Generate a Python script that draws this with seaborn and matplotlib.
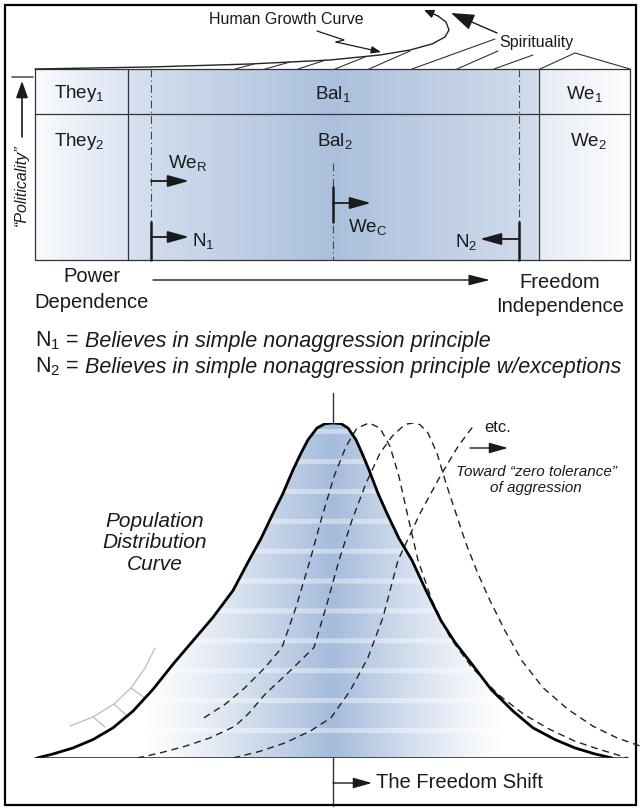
import numpy as np
import matplotlib
matplotlib.use("Agg")
import matplotlib.pyplot as plt
import seaborn as sns
from matplotlib.colors import LinearSegmentedColormap, to_rgb
from matplotlib.patches import Rectangle, Polygon

# ---- data ----
row1_labels = ["They$_1$", "Bal$_1$", "We$_1$"]
row2_labels = ["They$_2$", "Bal$_2$", "We$_2$"]
axis_left = ["Power", "Dependence"]
axis_right = ["Freedom", "Independence"]
notes = [("N$_1$ =", "Believes in simple nonaggression principle"),
         ("N$_2$ =", "Believes in simple nonaggression principle w/exceptions")]

# population distribution curve (x position, share of peak)
pop_x = [37, 53, 73, 93, 113, 133, 153, 173, 193, 213, 233, 249, 261, 273, 283, 293, 301, 308, 317, 325, 333,
         341, 348, 356, 362, 369, 378, 387, 399, 412, 426, 441, 455, 472, 491, 513, 533, 555, 575, 595, 612]
pop_share = [0, 0.012, 0.03, 0.055, 0.09, 0.14, 0.205, 0.28, 0.35, 0.42, 0.50, 0.59, 0.655, 0.73, 0.79, 0.86, 0.91, 0.95, 0.985, 0.998, 1.0,
             0.998, 0.985, 0.95, 0.91, 0.86, 0.79, 0.73, 0.655, 0.59, 0.50, 0.41, 0.345, 0.28, 0.205, 0.14, 0.09, 0.055, 0.03, 0.012, 0]

# shifted curves (dashed)
shift1_x = [204, 225, 245, 265, 282, 296, 310, 322, 334, 346, 357, 369,
            380, 390, 399, 408, 418, 432, 450, 472, 498, 524, 550, 575, 600, 628]
shift1_share = [0.12, 0.16, 0.21, 0.27, 0.33, 0.45, 0.59, 0.72, 0.84, 0.93, 0.985, 1.0,
                0.985, 0.93, 0.84, 0.72, 0.59, 0.47, 0.36, 0.27, 0.19, 0.13, 0.085, 0.05, 0.025, 0]
shift2_x = [137, 160, 185, 210, 235, 249, 265, 290, 314, 327, 339, 352, 366, 380, 392, 401, 407, 413,
            420, 428, 437, 446, 456, 466, 478, 490, 505, 522, 543, 568, 593, 617, 640]
shift2_share = [0, 0.015, 0.035, 0.06, 0.095, 0.134, 0.19, 0.26, 0.33, 0.46, 0.59, 0.71, 0.82, 0.91, 0.96, 0.985, 0.997, 1.0,
                0.995, 0.97, 0.91, 0.82, 0.73, 0.64, 0.55, 0.47, 0.38, 0.29, 0.21, 0.145, 0.095, 0.06, 0.036]
shift3_x = [233, 260, 285, 310, 331, 350, 368, 383, 398, 420, 440, 458, 473]
shift3_share = [0, 0.02, 0.045, 0.08, 0.12, 0.2, 0.3, 0.42, 0.59, 0.73, 0.84, 0.93, 0.99]

# growth curve sketch and hatching
growth_x = [35, 150, 250, 330, 380, 410, 432, 445, 449, 446, 438]
growth_y = [69, 67, 64, 60, 55, 50, 44, 37, 30, 22, 16]
hatch_x0 = [235, 265, 298, 335, 369, 412, 457, 494]
hatch_x1 = [254, 290, 326, 365, 410, 495, 498, 533]
hatch_y1 = [64, 62, 60, 57, 51, 39, 51, 55]

# ---- setup ----
sns.set_theme(style="white")
plt.rcParams['font.family'] = ['Liberation Sans', 'DejaVu Sans']
plt.rcParams['mathtext.fontset'] = 'custom'
plt.rcParams['mathtext.rm'] = 'Liberation Sans'
plt.rcParams['mathtext.it'] = 'Liberation Sans:italic'

W, H = 640, 808
INK = '#1a1a1a'
fig = plt.figure(figsize=(6.4, 8.08), dpi=100)
ax = fig.add_axes([0, 0, 1, 1])

def arrow(x0, y0, x1, y1, hl=18, hw=10, lw=1.3, color=INK):
    ax.annotate('', xy=(x1, y1), xytext=(x0, y0),
                arrowprops=dict(arrowstyle=f'-|>,head_length={hl*0.072:.3f},head_width={hw*0.036:.3f}',
                                color=color, lw=lw, shrinkA=0, shrinkB=0, mutation_scale=10))

# frame
ax.add_patch(Rectangle((5, 5), 631, 800, fill=False, lw=1.6, ec='black', zorder=10))

# ---- table ----
TL, TR, TT, TB, TM = 35, 630, 69, 260, 114
stops = [(35, '#f8fafd'), (128, '#dbe4f1'), (129, '#d6e0ef'), (333, '#abc0dd'),
         (538, '#d2dcec'), (540, '#e6ecf5'), (630, '#fcfdfe')]
cmap = LinearSegmentedColormap.from_list('tbl', [((x - TL) / (TR - TL), c) for x, c in stops])
ax.imshow(np.linspace(0, 1, 600)[None, :], cmap=cmap, extent=(TL, TR, TB, TT), aspect='auto', zorder=0)
ax.add_patch(Rectangle((TL, TT), TR - TL, TB - TT, fill=False, lw=0.9, ec='#333333', zorder=2))
ax.plot([TL, TR], [TM, TM], color='#333333', lw=0.9)
for cx in (128, 539):
    ax.plot([cx, cx], [TT, TB], color='#333333', lw=0.9)
for cx in (151, 519):
    ax.plot([cx, cx], [TT, TB], color='#444444', lw=0.8, dashes=(7, 3, 1, 3))
ax.plot([333, 333], [163, TB], color='#444444', lw=0.8, dashes=(7, 3, 1, 3))

for lab, cx in zip(row1_labels, (79, 333, 585)):
    ax.text(cx, 94, lab, ha='center', va='center', fontsize=13.5, color=INK)
for lab, cx in zip(row2_labels, (79, 335, 588)):
    ax.text(cx, 141, lab, ha='center', va='center', fontsize=13.5, color=INK)

# markers inside table
ax.text(188, 163, r"We$_\mathrm{R}$", ha='center', va='center', fontsize=13.5, color=INK)
arrow(151, 181, 189, 181)
ax.plot([151, 151], [222, TB], color=INK, lw=1.8)
arrow(151, 237, 189, 237)
ax.text(203, 241, "N$_1$", ha='center', va='center', fontsize=13.5, color=INK)
ax.plot([333, 333], [187, 222], color=INK, lw=1.8)
arrow(333, 203, 371, 203)
ax.text(368, 227, r"We$_\mathrm{C}$", ha='center', va='center', fontsize=13.5, color=INK)
ax.plot([519, 519], [222, TB], color=INK, lw=1.8)
arrow(519, 239, 480, 239)
ax.text(466, 242, "N$_2$", ha='center', va='center', fontsize=13.5, color=INK)

# politicality axis
ax.plot([12, 33], [77, 77], color='#555555', lw=1.2)
arrow(22, 137, 22, 81, hl=14, hw=10, lw=1.2)
ax.text(21, 185, "\u201cPoliticality\u201d", rotation=90, ha='center', va='center',
        fontsize=11.5, style='italic', color=INK)

# ---- growth curve, hatching, spirituality ----
ax.plot(growth_x, growth_y, color='#222222', lw=1.0)
arrow(438, 16, 424, 10, hl=8, hw=7, lw=1.0)
for x0, x1, y1 in zip(hatch_x0, hatch_x1, hatch_y1):
    ax.plot([x0, x1], [TT, y1], color='#333333', lw=0.8)
ax.plot([540, 575, 630], [TT, 53, TT], color='#333333', lw=0.8)
arrow(497, 33, 451, 13, hl=20, hw=14, lw=1.0)
ax.text(536, 42, "Spirituality", ha='center', va='center', fontsize=11.5, color=INK)
ax.text(286, 20, "Human Growth Curve", ha='center', va='center', fontsize=11.5, color=INK)
ax.plot([317, 344, 336], [31, 40, 42], color=INK, lw=0.9)
arrow(336, 42, 381, 52, hl=8, hw=6, lw=0.9)

# ---- freedom axis and notes ----
for i, t in enumerate(axis_left):
    ax.text(92, 277 + 25 * i, t, ha='center', va='center', fontsize=14.5, color=INK)
for i, t in enumerate(axis_right):
    ax.text(560, 282 + 25 * i, t, ha='center', va='center', fontsize=14.5, color=INK)
arrow(153, 280, 490, 280, hl=18, hw=9, lw=1.0)
for i, (head, body) in enumerate(notes):
    t1 = ax.text(35, 341 + 26 * i, head, ha='left', va='center', fontsize=15.5, color=INK)
    ax.annotate(body, xy=(1, 0.5), xycoords=t1, xytext=(4, 0), textcoords='offset points',
                ha='left', va='center', fontsize=15.5, style='italic', color=INK)

# ---- population distribution ----
BASE, PEAK = 758, 423
ax.set_xlim(0, W)
ax.set_ylim(H, 0)
ax.axis('off')

ax2 = fig.add_axes([0, (H - BASE) / H, 1, (BASE - PEAK) / H])
ax2.axis('off')
ax2.patch.set_alpha(0)

# gradient fill with faint horizontal banding
xs = np.linspace(0, W, 641)
hs = np.linspace(0, 1, 336)
X, Hh = np.meshgrid(xs, hs)
d = X - 333
wgt = np.clip(1 - np.where(d < 0, -d / 190, d / 170), 0, 1) ** 1.2
band = ((Hh * (BASE - PEAK)) % 30) > 24
wgt = wgt * np.where(band, 0.6, 1.0)
blue = np.array(to_rgb('#a4bbdb'))
img = 1 - wgt[..., None] * (1 - blue)
im = ax2.imshow(img, extent=(0, W, 0, 1), origin='lower', aspect='auto', zorder=0)
poly = Polygon(np.column_stack([pop_x, pop_share]), closed=True, transform=ax2.transData)
im.set_clip_path(poly)

for sx, sy in ((shift1_x, shift1_share), (shift2_x, shift2_share), (shift3_x, shift3_share)):
    sns.lineplot(x=sx, y=sy, ax=ax2, sort=False, estimator=None, color='#222222',
                 lw=1.0, linestyle=(0, (5, 3.5)))
sns.lineplot(x=pop_x, y=pop_share, ax=ax2, sort=False, estimator=None, color='black', lw=2.0)
ax2.plot([35, 628], [0, 0], color='#222222', lw=1.1)
ax2.set_xlim(0, W)
ax2.set_ylim(0, 1)
ax2.axis('off')

# center line
ax.plot([333, 333], [393, PEAK], color='#333333', lw=1.0)
ax.plot([333, 333], [PEAK, BASE], color='#333333', lw=1.0, dashes=(9, 4))
ax.plot([333, 333], [BASE, 806], color='#333333', lw=1.0)

# fan on the lower left
ax.plot([155, 145, 131, 114, 93, 70], [648, 668, 688, 704, 717, 726], color='#bbbbbb', lw=0.9)
for (x0, y0), (x1, y1) in (((93, 717), (105, 727)), ((114, 704), (127, 716)), ((131, 688), (145, 698))):
    ax.plot([x0, x1], [y0, y1], color='#bbbbbb', lw=0.9)

ax.text(155, 543, "Population\nDistribution\nCurve", ha='center', va='center', fontsize=15,
        style='italic', linespacing=1.15, color=INK)
ax.text(498, 428, "etc.", ha='center', va='center', fontsize=12, color=INK)
arrow(470, 448, 508, 448, hl=16, hw=9, lw=1.0)
ax.text(536, 480, "Toward \u201czero tolerance\u201d\nof aggression", ha='center', va='center',
        fontsize=11, style='italic', linespacing=1.2, color=INK)
arrow(333, 783, 372, 783, hl=16, hw=9, lw=1.0)
ax.text(376, 783, "The Freedom Shift", ha='left', va='center', fontsize=14.5, color=INK)

fig.savefig("out.png", dpi=100)
